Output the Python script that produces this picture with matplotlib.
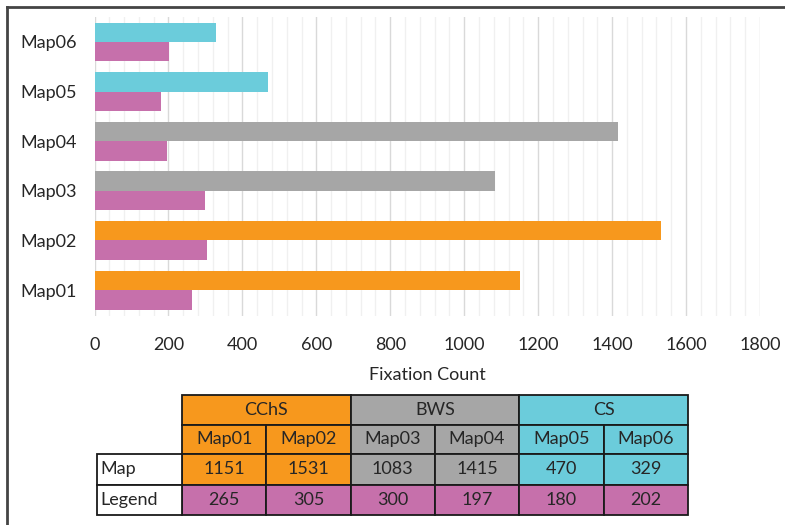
import matplotlib
matplotlib.use("Agg")
import matplotlib.pyplot as plt
from matplotlib.patches import Rectangle
from matplotlib.lines import Line2D

plt.rcParams['font.family'] = ['Lato', 'DejaVu Sans']

# Data
maps = ["Map01", "Map02", "Map03", "Map04", "Map05", "Map06"]
groups = ["CChS", "BWS", "CS"]
map_counts = [1151, 1531, 1083, 1415, 470, 329]
legend_counts = [265, 305, 300, 197, 180, 202]
map_group = [0, 0, 1, 1, 2, 2]

# Colours
GROUP_COLORS = ["#F7981D", "#A6A6A6", "#6BCCDB"]
LEGEND_COLOR = "#C670AB"
TEXT = "#262626"

W, H = 785, 525
fig = plt.figure(figsize=(W / 100, H / 100), dpi=100)

# Bar chart
ax = fig.add_axes([94.5 / W, 1 - 316 / H, (760 - 94.5) / W, (316 - 17) / H])
ypos = list(range(len(maps)))
bh = 0.393
ax.barh([y + bh / 2 for y in ypos], map_counts, height=bh,
        color=[GROUP_COLORS[g] for g in map_group], zorder=3)
ax.barh([y - bh / 2 for y in ypos], legend_counts, height=bh,
        color=LEGEND_COLOR, zorder=3)

ax.set_xlim(0, 1800)
ax.set_ylim(-0.524, 5.504)
ax.set_xticks(range(0, 1801, 200))
ax.set_xticks(range(0, 1801, 40), minor=True)
ax.set_yticks(ypos)
ax.set_yticklabels(maps)
ax.grid(axis="x", which="major", color="#D9D9D9", linewidth=1.0, zorder=0)
ax.grid(axis="x", which="minor", color="#F0F0F0", linewidth=1.0, zorder=0)
ax.grid(axis="y", visible=False)
ax.set_axisbelow(True)
for s in ax.spines.values():
    s.set_visible(False)
ax.tick_params(axis="both", which="both", length=0, labelsize=13, labelcolor=TEXT)
ax.tick_params(axis="x", pad=15)
ax.tick_params(axis="y", pad=13)
ax.set_xlabel("Fixation Count", fontsize=13, color=TEXT, labelpad=10)

# Overlay in pixel coordinates for the data table and the frame
ov = fig.add_axes([0, 0, 1, 1])
ov.set_xlim(0, W)
ov.set_ylim(H, 0)
ov.axis("off")

col_x = [182, 266.3, 350.6, 434.9, 519.2, 603.5, 687.8]
row_y = [395, 424.5, 454, 484.5, 515]
label_x0 = 97
lw = 1.3
fs = 13

# Group header row
for g, name in enumerate(groups):
    x0, x1 = col_x[2 * g], col_x[2 * g + 2]
    ov.add_patch(Rectangle((x0, row_y[0]), x1 - x0, row_y[1] - row_y[0],
                           facecolor=GROUP_COLORS[g], edgecolor="#1A1A1A", lw=lw))
    ov.text((x0 + x1) / 2, (row_y[0] + row_y[1]) / 2, name, ha="center",
            va="center", fontsize=fs, color=TEXT)

# Map name row and value rows
for i, name in enumerate(maps):
    x0, x1 = col_x[i], col_x[i + 1]
    cells = [(name, GROUP_COLORS[map_group[i]]),
             (str(map_counts[i]), GROUP_COLORS[map_group[i]]),
             (str(legend_counts[i]), LEGEND_COLOR)]
    for r, (txt, fc) in enumerate(cells):
        y0, y1 = row_y[r + 1], row_y[r + 2]
        ov.add_patch(Rectangle((x0, y0), x1 - x0, y1 - y0,
                               facecolor=fc, edgecolor="#1A1A1A", lw=lw))
        ov.text((x0 + x1) / 2, (y0 + y1) / 2, txt, ha="center", va="center",
                fontsize=fs, color=TEXT)

# Row labels
for r, name in enumerate(["Map", "Legend"]):
    y0, y1 = row_y[r + 2], row_y[r + 3]
    ov.add_patch(Rectangle((label_x0, y0), col_x[0] - label_x0, y1 - y0,
                           facecolor="white", edgecolor="#1A1A1A", lw=lw))
    ov.text(label_x0 + 3, (y0 + y1) / 2, name, ha="left", va="center",
            fontsize=fs, color=TEXT)

# Outer frame (top and left edges)
ov.add_line(Line2D([6.5, W], [6.5, 6.5], color="#444444", lw=2))
ov.add_line(Line2D([6.5, 6.5], [6.5, H], color="#444444", lw=2))

fig.savefig("out.png", dpi=100)
